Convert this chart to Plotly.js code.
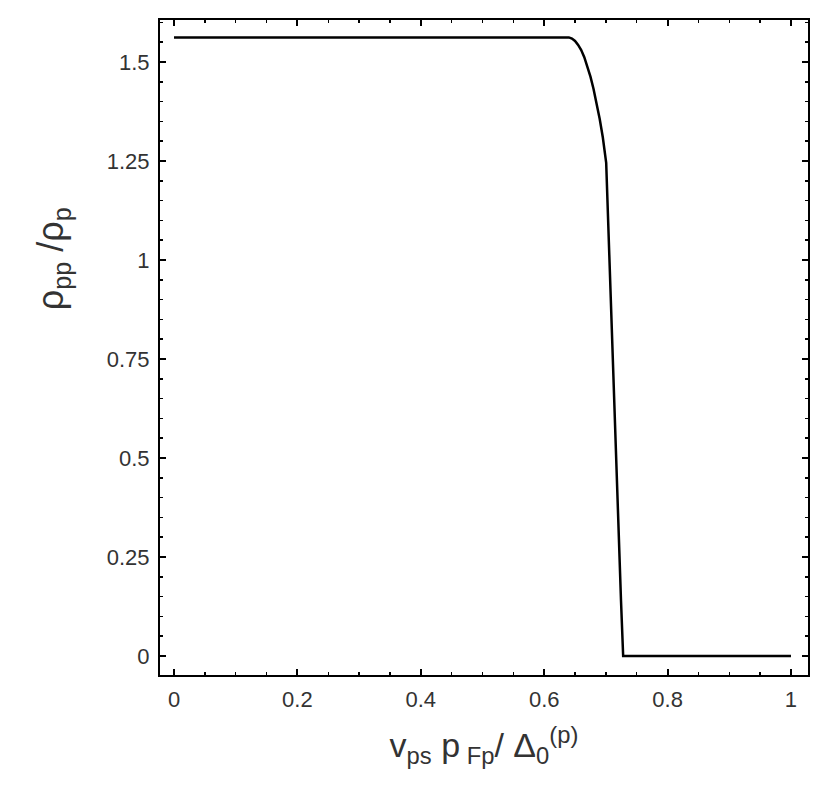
<!DOCTYPE html>
<html><head><meta charset="utf-8">
<script src="https://cdn.plot.ly/plotly-3.0.1.min.js"></script>
<style>body{margin:0;background:#fff}#c{width:830px;height:793px}</style>
</head><body><div id="c"></div>
<script>
const xVals = [0, 0.2, 0.4, 0.6, 0.640, 0.645, 0.650, 0.655, 0.660, 0.665, 0.670, 0.675, 0.680, 0.685, 0.690, 0.695, 0.699, 0.7005, 0.7245, 0.728, 0.8, 0.9, 1.0];
const yVals = [1.562, 1.562, 1.562, 1.562, 1.562, 1.559, 1.553, 1.543, 1.530, 1.512, 1.490, 1.463, 1.432, 1.397, 1.356, 1.31, 1.27, 1.245, 0.14, 0, 0, 0, 0];
const xTicks = [0, 0.2, 0.4, 0.6, 0.8, 1];
const xTickText = ['0', '0.2', '0.4', '0.6', '0.8', '1'];
const yTicks = [0, 0.25, 0.5, 0.75, 1, 1.25, 1.5];
const yTickText = ['0', '0.25', '0.5', '0.75', '1', '1.25', '1.5'];

const FONT = 'Liberation Sans, Arial, sans-serif';
const axisCommon = {
  showgrid: false, zeroline: false, showline: true, mirror: 'ticks',
  linecolor: '#000', linewidth: 2, ticks: 'inside', ticklen: 6, tickwidth: 2,
  tickcolor: '#000', ticklabelstandoff: 4,
  tickfont: {family: FONT, size: 22, color: '#333'},
  minor: {dtick: 0.05, ticks: 'inside', ticklen: 3, tickwidth: 1.5, tickcolor: '#000'}
};

Plotly.newPlot('c', [{
  x: xVals, y: yVals, type: 'scatter', mode: 'lines',
  line: {color: '#000', width: 2.5}, hoverinfo: 'skip'
}], {
  width: 830, height: 793,
  margin: {l: 160, r: 22, t: 20, b: 118},
  paper_bgcolor: '#fff', plot_bgcolor: '#fff',
  showlegend: false,
  xaxis: Object.assign({}, axisCommon, {
    range: [-0.0227, 1.0276], tickvals: xTicks, ticktext: xTickText,
    title: {text: 'v<sub>ps</sub> p<sub> Fp</sub>/ Δ<sub>0</sub><sup>(p)</sup>', standoff: 22,
      font: {family: FONT, size: 34, color: '#333'}}
  }),
  yaxis: Object.assign({}, axisCommon, {
    range: [-0.048, 1.606], tickvals: yTicks, ticktext: yTickText
  }),
  annotations: [{
    xref: 'paper', yref: 'paper', x: -0.165, y: 0.635, xanchor: 'center', yanchor: 'middle',
    textangle: -90, showarrow: false,
    text: 'ρ<sub>pp</sub> /ρ<sub>p</sub>',
    font: {family: FONT, size: 36, color: '#333'}
  }]
}, {staticPlot: true});
</script></body></html>
